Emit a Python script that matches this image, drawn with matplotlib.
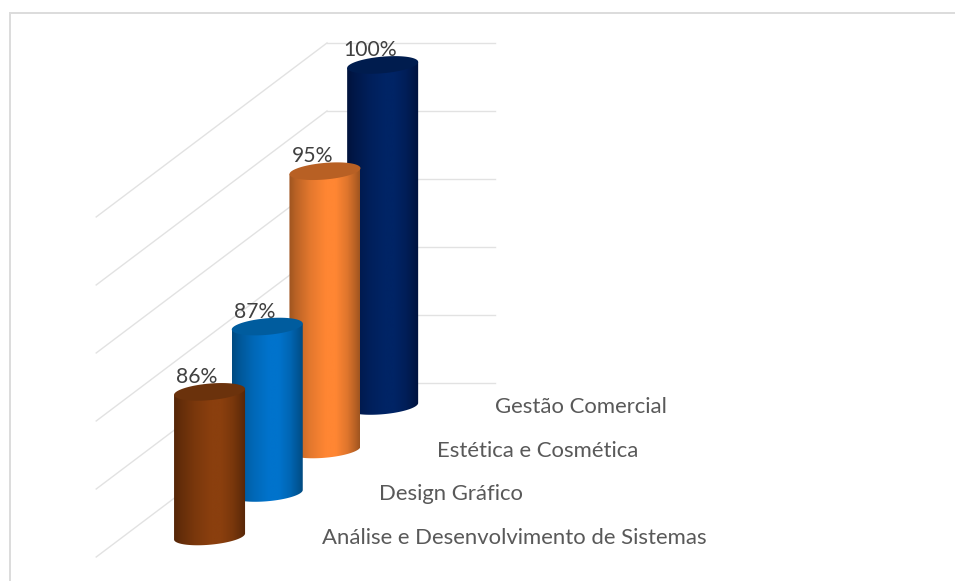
import numpy as np
import matplotlib
matplotlib.use("Agg")
import matplotlib.pyplot as plt
from matplotlib.patches import Polygon
from matplotlib.colors import LinearSegmentedColormap, to_rgb

categories = ["Análise e Desenvolvimento de Sistemas", "Design Gráfico",
              "Estética e Cosmética", "Gestão Comercial"]
values = [85.6, 87.2, 95.4, 100.0]
value_ticks = [75, 80, 85, 90, 95, 100]
body_mid = ["#8A3F0E", "#0073CC", "#FF8633", "#002465"]
body_edge = ["#552608", "#004A80", "#9E5420", "#00123C"]
cap_colors = ["#6B320C", "#005C9E", "#B86024", "#001C4E"]

# oblique projection of the 3D chart box onto the page (pixels)
BACK_X, BACK_Y = 411.5, 383.0
STEP_X, STEP_Y = 57.7, 43.5
UNIT = 13.64
HALF_W, HALF_TILT, HALF_H = 35.5, 3.0, 8.3
WALL_LEFT, WALL_RIGHT = 327.0, 495.0


def project(cat, val):
    depth = len(categories) - 0.5 - cat
    x = BACK_X - depth * STEP_X
    y = BACK_Y + 1.2 + depth * STEP_Y - (val - value_ticks[0]) * UNIT
    return x, y


def ellipse(cx, cy, t):
    return cx + HALF_W * np.cos(t), cy + HALF_H * np.sin(t) - HALF_TILT * np.cos(t)


fig = plt.figure(figsize=(9.55, 5.81), dpi=100, facecolor="white")
ax = fig.add_axes([0, 0, 1, 1])
ax.axis("off")

# chart frame
ax.plot([10, 955], [12.8, 12.8], color="#DCDCDC", lw=1.4, zorder=1, solid_capstyle="butt")
ax.plot([10, 10], [12, 581], color="#DCDCDC", lw=1.4, zorder=1, solid_capstyle="butt")

# gridlines on back wall and side wall
for tick in value_ticks:
    gy = BACK_Y - (tick - value_ticks[0]) * UNIT * 0.9972
    ax.plot([WALL_LEFT, WALL_RIGHT], [gy, gy], color="#E2E2E2", lw=1.0, zorder=2)
    ax.plot([WALL_LEFT, WALL_LEFT - 4 * STEP_X], [gy, gy + 4 * STEP_Y], color="#E2E2E2", lw=1.0, zorder=2)

t_lower = np.linspace(0, np.pi, 80)
t_full = np.linspace(0, 2 * np.pi, 160)
profile_x = [0.0, 0.10, 0.30, 0.52, 0.66, 0.82, 0.94, 1.0]
profile_v = [0.0, 0.30, 0.72, 1.0, 1.0, 0.68, 0.25, 0.0]

for i, (cat, val) in enumerate(zip(categories, values)):
    z = 30 - 3 * i
    cx, top = project(i, val)
    _, base = project(i, value_ticks[0])
    bx, by = ellipse(cx, base, t_lower)
    outline = np.column_stack([
        np.r_[cx + HALF_W, bx, cx - HALF_W],
        np.r_[top - HALF_TILT, by, top + HALF_TILT],
    ])
    body = Polygon(outline, closed=True, fc="none", ec="none", transform=ax.transData)
    ax.add_patch(body)
    edge_rgb, mid_rgb = np.array(to_rgb(body_edge[i])), np.array(to_rgb(body_mid[i]))
    cmap = LinearSegmentedColormap.from_list(
        "c", [(x, tuple(edge_rgb * (1 - v) + mid_rgb * v)) for x, v in zip(profile_x, profile_v)])
    im = ax.imshow(np.linspace(0, 1, 256).reshape(1, -1), cmap=cmap, aspect="auto",
                   extent=(cx - HALF_W, cx + HALF_W, base + 14, top - 14),
                   zorder=z, interpolation="bilinear")
    im.set_clip_path(body)
    ex, ey = ellipse(cx, top, t_full)
    ax.fill(ex, ey, color=cap_colors[i], lw=0, zorder=z + 1)
    ax.text(cx - 12.5, top - 15, f"{val:.0f}%", ha="center", va="center",
            fontsize=15.2, family="Lato", color="#404040", zorder=40)
    ax.text(cx + 112.0, base + 1.5, cat, ha="left", va="center",
            fontsize=15.9, family="Lato", color="#595959", zorder=40)

ax.set_xlim(0, 955)
ax.set_ylim(581, 0)
fig.savefig("out.png", dpi=100, facecolor="white")
